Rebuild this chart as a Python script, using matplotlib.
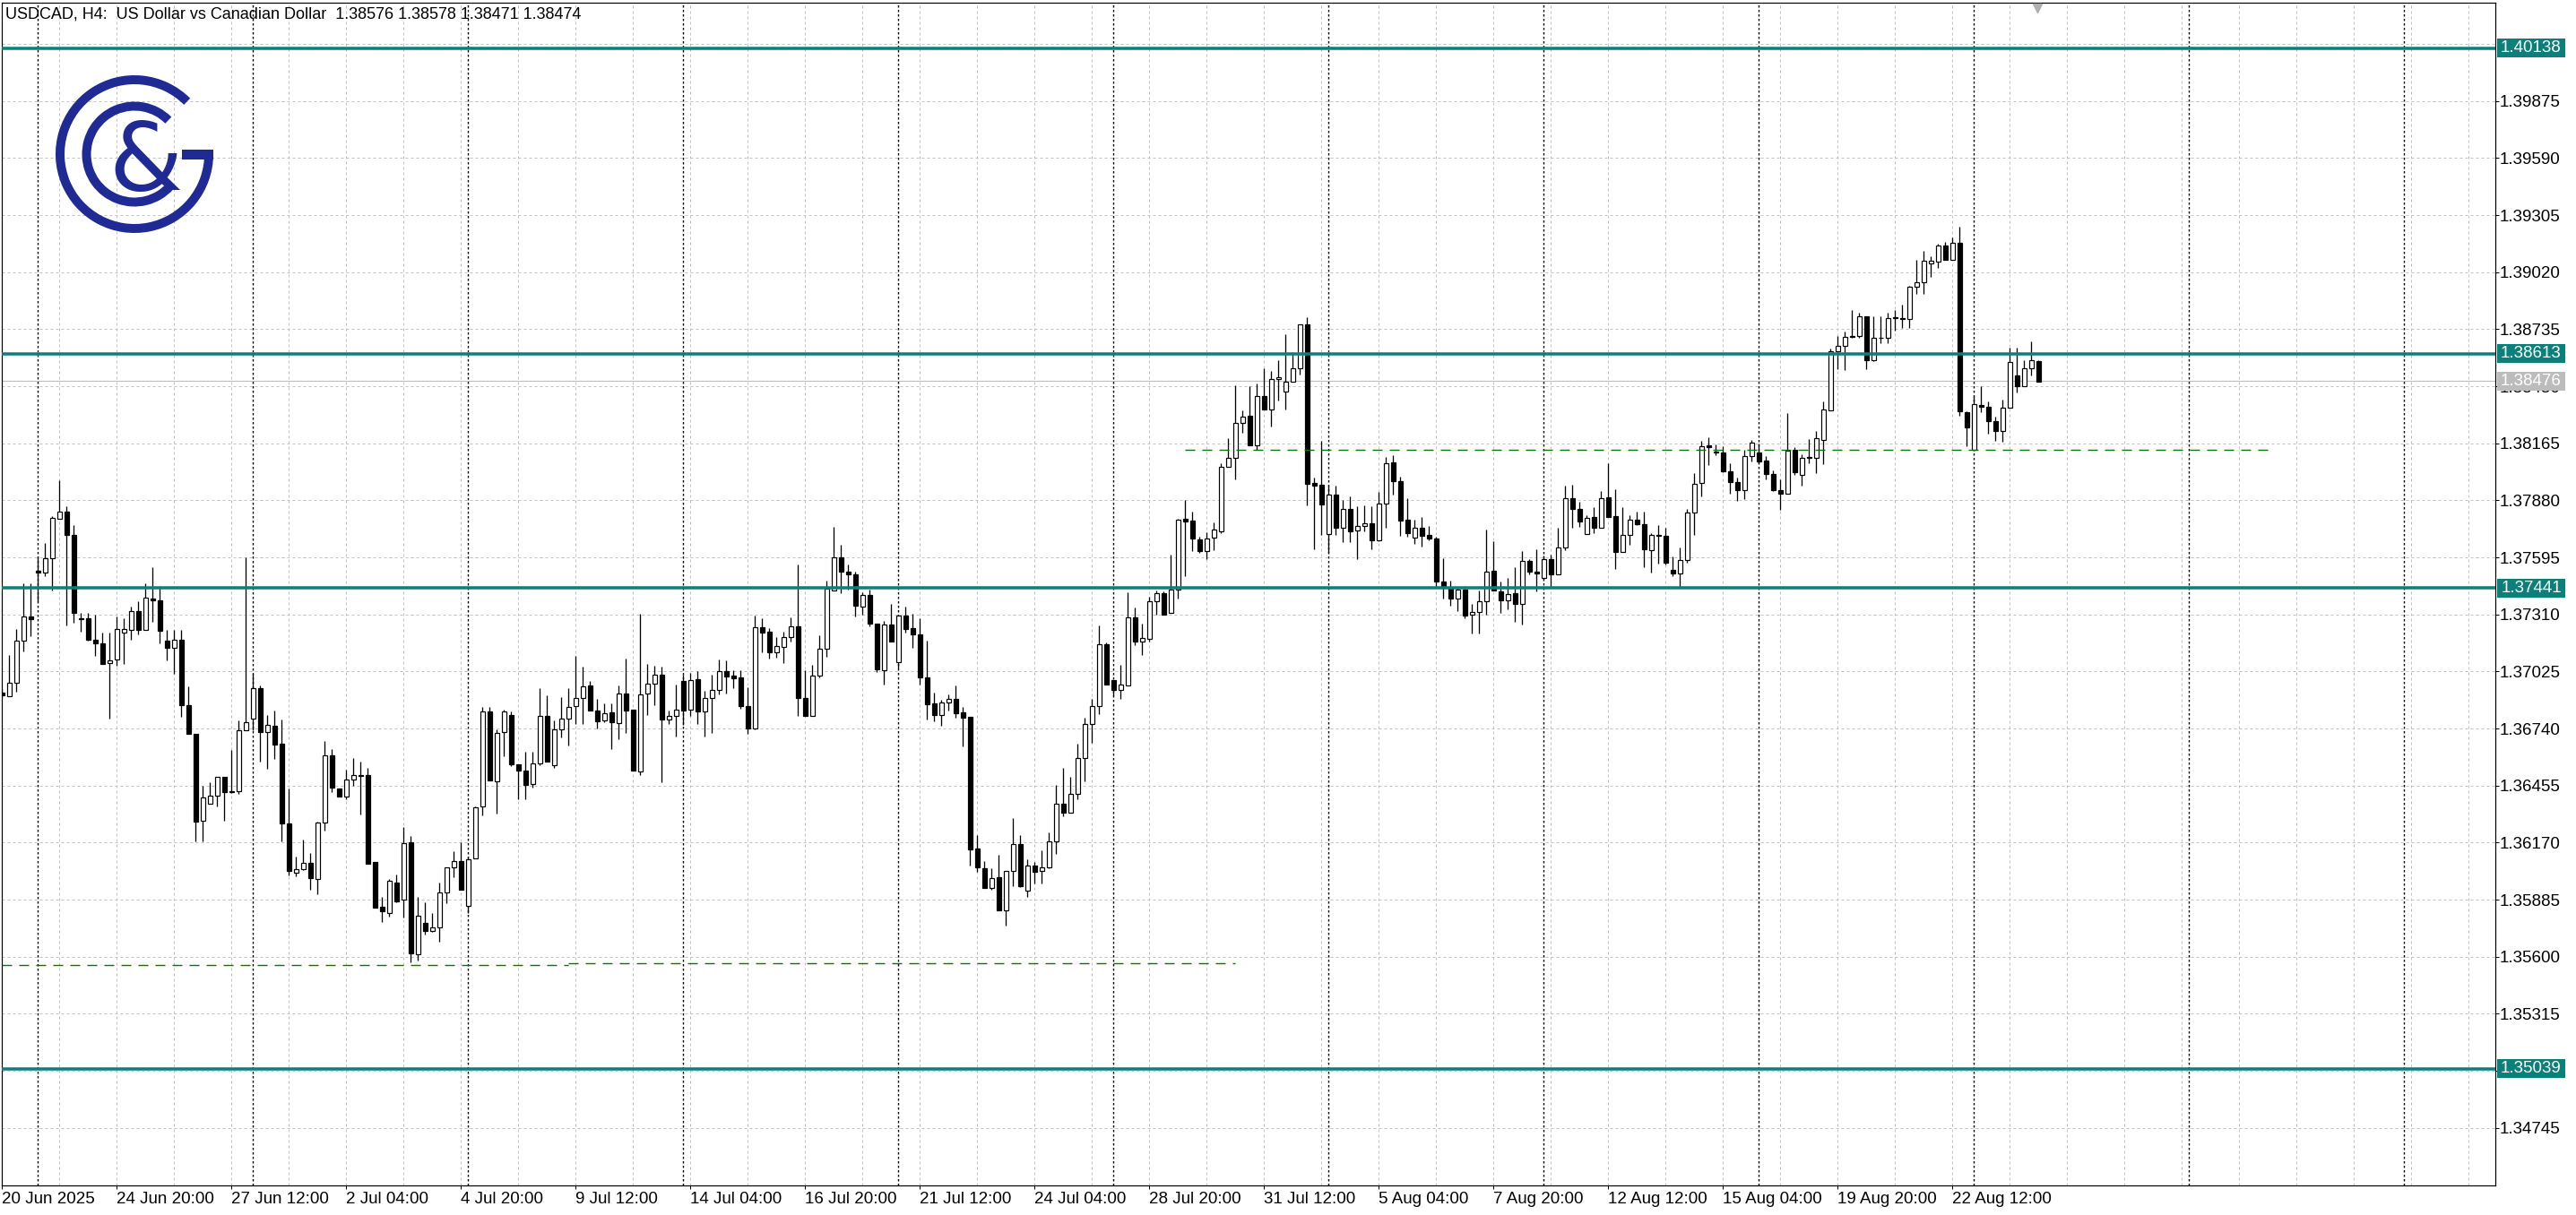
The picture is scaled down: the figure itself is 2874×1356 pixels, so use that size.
import numpy as np
import matplotlib
matplotlib.use("Agg")
import matplotlib.pyplot as plt
from matplotlib.patches import Rectangle, Arc
from matplotlib.transforms import blended_transform_factory

plt.rcParams["font.family"] = ["Liberation Sans", "DejaVu Sans"]
plt.rcParams["lines.scale_dashes"] = False

# H4 bars, 20 Jun 2025 -> 26 Aug 2025
opens = [
    1.36921, 1.36902, 1.36970, 1.37177, 1.37298, 1.37527, 1.37520, 1.37591, 1.37786, 1.37824,
    1.37709, 1.37291, 1.37291, 1.37185, 1.37167, 1.37069, 1.37083, 1.37219, 1.37233, 1.37327,
    1.37233, 1.37390, 1.37382, 1.37177, 1.37144, 1.37185, 1.36856, 1.36713, 1.36281, 1.36364,
    1.36404, 1.36498, 1.36428, 1.36426, 1.36730, 1.36789, 1.36940, 1.36721, 1.36752, 1.36663,
    1.36264, 1.36021, 1.36039, 1.36068, 1.35986, 1.36271, 1.36605, 1.36441, 1.36400, 1.36486,
    1.36508, 1.36508, 1.36071, 1.35849, 1.35820, 1.35972, 1.35885, 1.36173, 1.35610, 1.35769,
    1.35730, 1.35747, 1.35919, 1.36045, 1.36079, 1.35854, 1.36093, 1.36349, 1.36827, 1.36477,
    1.36721, 1.36806, 1.36559, 1.36528, 1.36461, 1.36565, 1.36804, 1.36558, 1.36737, 1.36791,
    1.36852, 1.36891, 1.36956, 1.36831, 1.36780, 1.36819, 1.36768, 1.36916, 1.36835, 1.36525,
    1.36916, 1.36962, 1.37007, 1.36786, 1.36804, 1.36976, 1.36835, 1.36985, 1.36826, 1.36894,
    1.36931, 1.37028, 1.37003, 1.36994, 1.36853, 1.36741, 1.37244, 1.37222, 1.37122, 1.37147,
    1.37197, 1.37252, 1.36894, 1.36804, 1.37006, 1.37140, 1.37431, 1.37595, 1.37525, 1.37510,
    1.37350, 1.37405, 1.37264, 1.37032, 1.37259, 1.37073, 1.37306, 1.37241, 1.37212, 1.36995,
    1.36864, 1.36809, 1.36871, 1.36886, 1.36819, 1.36798, 1.36140, 1.36043, 1.35943, 1.35996,
    1.35831, 1.36030, 1.36164, 1.35931, 1.36055, 1.36027, 1.36048, 1.36174, 1.36366, 1.36320,
    1.36413, 1.36591, 1.36763, 1.36851, 1.37161, 1.36983, 1.36932, 1.36954, 1.37293, 1.37175,
    1.37186, 1.37374, 1.37415, 1.37318, 1.37434, 1.37786, 1.37778, 1.37685, 1.37628, 1.37692,
    1.37726, 1.38046, 1.38093, 1.38266, 1.38303, 1.38155, 1.38399, 1.38333, 1.38484, 1.38422,
    1.38473, 1.38538, 1.38759, 1.37967, 1.37957, 1.37711, 1.37908, 1.37745, 1.37835, 1.37730,
    1.37750, 1.37767, 1.37679, 1.37863, 1.38068, 1.37974, 1.37782, 1.37692, 1.37741, 1.37707,
    1.37688, 1.37472, 1.37440, 1.37391, 1.37434, 1.37308, 1.37321, 1.37374, 1.37528, 1.37425,
    1.37382, 1.37415, 1.37363, 1.37579, 1.37523, 1.37494, 1.37586, 1.37509, 1.37643, 1.37889,
    1.37836, 1.37713, 1.37796, 1.37743, 1.37896, 1.37802, 1.37624, 1.37707, 1.37784, 1.37762,
    1.37631, 1.37707, 1.37703, 1.37531, 1.37513, 1.37580, 1.37819, 1.37966, 1.38154, 1.38124,
    1.38119, 1.38026, 1.37973, 1.37933, 1.38100, 1.38119, 1.38078, 1.38011, 1.37933, 1.37911,
    1.38130, 1.38005, 1.38096, 1.38094, 1.38183, 1.38331, 1.38626, 1.38651, 1.38696, 1.38700,
    1.38797, 1.38581, 1.38692, 1.38693, 1.38794, 1.38791, 1.38785, 1.38946, 1.38968, 1.39062,
    1.39072, 1.39151, 1.39083, 1.39166, 1.38320, 1.38134, 1.38355, 1.38347, 1.38276, 1.38224,
    1.38343, 1.38504, 1.38451, 1.38541, 1.38576,
]
highs = [
    1.36935, 1.37109, 1.37237, 1.37467, 1.37467, 1.37598, 1.37668, 1.37800, 1.37981, 1.37851,
    1.37754, 1.37317, 1.37317, 1.37310, 1.37218, 1.37218, 1.37301, 1.37289, 1.37351, 1.37376,
    1.37467, 1.37547, 1.37450, 1.37233, 1.37233, 1.37233, 1.36950, 1.36713, 1.36455, 1.36472,
    1.36498, 1.36498, 1.36634, 1.36781, 1.37595, 1.37015, 1.36955, 1.36805, 1.36830, 1.36784,
    1.36440, 1.36102, 1.36187, 1.36119, 1.36276, 1.36678, 1.36639, 1.36441, 1.36533, 1.36591,
    1.36576, 1.36545, 1.36071, 1.35897, 1.35987, 1.36011, 1.36247, 1.36201, 1.35897, 1.35871,
    1.35817, 1.35969, 1.36045, 1.36127, 1.36173, 1.36102, 1.36349, 1.36849, 1.36849, 1.36737,
    1.36836, 1.36824, 1.36562, 1.36622, 1.36625, 1.36943, 1.36904, 1.36779, 1.36895, 1.36943,
    1.37104, 1.37047, 1.36976, 1.36888, 1.36867, 1.36867, 1.36953, 1.37088, 1.36835, 1.37315,
    1.37062, 1.37055, 1.37050, 1.36831, 1.36958, 1.37010, 1.37017, 1.37025, 1.36928, 1.37007,
    1.37085, 1.37080, 1.37032, 1.37032, 1.36946, 1.37304, 1.37289, 1.37241, 1.37197, 1.37224,
    1.37294, 1.37558, 1.37032, 1.37058, 1.37207, 1.37480, 1.37746, 1.37659, 1.37558, 1.37522,
    1.37420, 1.37435, 1.37264, 1.37279, 1.37361, 1.37308, 1.37349, 1.37311, 1.37289, 1.37177,
    1.36921, 1.36883, 1.36909, 1.36953, 1.36846, 1.36798, 1.36207, 1.36078, 1.36040, 1.36107,
    1.36030, 1.36291, 1.36209, 1.36085, 1.36075, 1.36132, 1.36221, 1.36460, 1.36544, 1.36499,
    1.36663, 1.36795, 1.36889, 1.37255, 1.37171, 1.36983, 1.37058, 1.37421, 1.37344, 1.37265,
    1.37397, 1.37430, 1.37425, 1.37607, 1.37786, 1.37880, 1.37824, 1.37698, 1.37720, 1.37769,
    1.38064, 1.38190, 1.38454, 1.38328, 1.38450, 1.38463, 1.38540, 1.38525, 1.38578, 1.38710,
    1.38619, 1.38760, 1.38794, 1.37995, 1.38177, 1.37952, 1.37952, 1.37882, 1.37899, 1.37852,
    1.37854, 1.37848, 1.37920, 1.38096, 1.38106, 1.37999, 1.37889, 1.37782, 1.37795, 1.37750,
    1.37698, 1.37590, 1.37477, 1.37449, 1.37453, 1.37363, 1.37430, 1.37735, 1.37675, 1.37472,
    1.37491, 1.37547, 1.37626, 1.37585, 1.37637, 1.37604, 1.37610, 1.37743, 1.37951, 1.37959,
    1.37874, 1.37807, 1.37847, 1.37926, 1.38067, 1.37936, 1.37847, 1.37807, 1.37822, 1.37822,
    1.37714, 1.37755, 1.37743, 1.37598, 1.37646, 1.37836, 1.38015, 1.38176, 1.38197, 1.38157,
    1.38149, 1.38067, 1.37993, 1.38134, 1.38183, 1.38164, 1.38100, 1.38030, 1.37985, 1.38316,
    1.38145, 1.38109, 1.38186, 1.38224, 1.38376, 1.38636, 1.38700, 1.38722, 1.38830, 1.38816,
    1.38800, 1.38797, 1.38797, 1.38816, 1.38830, 1.38856, 1.38953, 1.39080, 1.39124, 1.39098,
    1.39162, 1.39172, 1.39191, 1.39247, 1.38323, 1.38402, 1.38450, 1.38376, 1.38298, 1.38384,
    1.38641, 1.38641, 1.38581, 1.38675, 1.38578,
]
lows = [
    1.36890, 1.36899, 1.36924, 1.37124, 1.37202, 1.37376, 1.37499, 1.37429, 1.37786, 1.37255,
    1.37267, 1.37225, 1.37179, 1.37103, 1.37064, 1.36788, 1.37054, 1.37061, 1.37182, 1.37211,
    1.37233, 1.37271, 1.37167, 1.37081, 1.37015, 1.36798, 1.36713, 1.36178, 1.36178, 1.36364,
    1.36349, 1.36277, 1.36417, 1.36412, 1.36730, 1.36733, 1.36574, 1.36537, 1.36588, 1.36178,
    1.36008, 1.36003, 1.36033, 1.35934, 1.35914, 1.36230, 1.36421, 1.36400, 1.36387, 1.36452,
    1.36310, 1.36064, 1.35846, 1.35772, 1.35798, 1.35871, 1.35794, 1.35573, 1.35581, 1.35709,
    1.35726, 1.35675, 1.35866, 1.35996, 1.35934, 1.35817, 1.36093, 1.36306, 1.36481, 1.36315,
    1.36600, 1.36554, 1.36387, 1.36386, 1.36446, 1.36555, 1.36576, 1.36543, 1.36695, 1.36655,
    1.36764, 1.36764, 1.36831, 1.36741, 1.36771, 1.36637, 1.36686, 1.36719, 1.36531, 1.36506,
    1.36809, 1.36856, 1.36473, 1.36764, 1.36700, 1.36756, 1.36804, 1.36764, 1.36700, 1.36718,
    1.36909, 1.36913, 1.36943, 1.36838, 1.36715, 1.36734, 1.37122, 1.37089, 1.37092, 1.37065,
    1.37174, 1.36801, 1.36804, 1.36804, 1.36995, 1.37100, 1.37431, 1.37416, 1.37435, 1.37298,
    1.37308, 1.37249, 1.37020, 1.36961, 1.37174, 1.37040, 1.37219, 1.37144, 1.36958, 1.36786,
    1.36774, 1.36753, 1.36831, 1.36794, 1.36652, 1.36055, 1.36025, 1.35943, 1.35933, 1.35831,
    1.35757, 1.35951, 1.35948, 1.35899, 1.35966, 1.35967, 1.36042, 1.36112, 1.36300, 1.36320,
    1.36386, 1.36475, 1.36669, 1.36813, 1.36960, 1.36907, 1.36889, 1.36954, 1.37156, 1.37109,
    1.37175, 1.37308, 1.37308, 1.37318, 1.37391, 1.37500, 1.37626, 1.37617, 1.37585, 1.37632,
    1.37716, 1.38046, 1.37983, 1.38219, 1.38155, 1.38134, 1.38333, 1.38247, 1.38379, 1.38333,
    1.38473, 1.38510, 1.37854, 1.37635, 1.37707, 1.37617, 1.37707, 1.37669, 1.37669, 1.37585,
    1.37726, 1.37635, 1.37675, 1.37745, 1.37910, 1.37703, 1.37698, 1.37664, 1.37650, 1.37682,
    1.37447, 1.37391, 1.37353, 1.37327, 1.37289, 1.37214, 1.37214, 1.37308, 1.37430, 1.37316,
    1.37335, 1.37274, 1.37259, 1.37509, 1.37425, 1.37487, 1.37449, 1.37509, 1.37632, 1.37743,
    1.37747, 1.37710, 1.37717, 1.37743, 1.37795, 1.37539, 1.37621, 1.37658, 1.37758, 1.37546,
    1.37519, 1.37564, 1.37561, 1.37501, 1.37442, 1.37568, 1.37705, 1.37901, 1.38055, 1.38105,
    1.38020, 1.37915, 1.37877, 1.37884, 1.38075, 1.38067, 1.37985, 1.37926, 1.37832, 1.37911,
    1.38005, 1.37951, 1.38067, 1.38015, 1.38060, 1.38331, 1.38536, 1.38532, 1.38692, 1.38690,
    1.38536, 1.38574, 1.38663, 1.38663, 1.38727, 1.38740, 1.38740, 1.38909, 1.38913, 1.38998,
    1.39040, 1.39083, 1.39083, 1.38301, 1.38149, 1.38134, 1.38320, 1.38212, 1.38175, 1.38172,
    1.38343, 1.38417, 1.38451, 1.38502, 1.38471,
]
closes = [
    1.36904, 1.36970, 1.37180, 1.37301, 1.37288, 1.37520, 1.37591, 1.37791, 1.37824, 1.37706,
    1.37317, 1.37284, 1.37182, 1.37167, 1.37064, 1.37078, 1.37237, 1.37235, 1.37327, 1.37233,
    1.37395, 1.37380, 1.37228, 1.37144, 1.37185, 1.36856, 1.36713, 1.36274, 1.36395, 1.36404,
    1.36498, 1.36422, 1.36422, 1.36730, 1.36771, 1.36940, 1.36721, 1.36757, 1.36660, 1.36267,
    1.36028, 1.36039, 1.36068, 1.35991, 1.36271, 1.36605, 1.36443, 1.36400, 1.36486, 1.36508,
    1.36503, 1.36064, 1.35846, 1.35825, 1.35977, 1.35876, 1.36166, 1.35615, 1.35806, 1.35730,
    1.35747, 1.35919, 1.36045, 1.36079, 1.35934, 1.36088, 1.36346, 1.36827, 1.36481, 1.36716,
    1.36824, 1.36559, 1.36528, 1.36458, 1.36567, 1.36804, 1.36576, 1.36737, 1.36791, 1.36849,
    1.36891, 1.36950, 1.36831, 1.36776, 1.36816, 1.36771, 1.36916, 1.36831, 1.36531, 1.36912,
    1.36962, 1.37010, 1.36786, 1.36804, 1.36835, 1.36831, 1.36983, 1.36826, 1.36894, 1.36931,
    1.37028, 1.37000, 1.36992, 1.36853, 1.36741, 1.37244, 1.37219, 1.37120, 1.37152, 1.37197,
    1.37252, 1.36894, 1.36804, 1.37006, 1.37140, 1.37438, 1.37595, 1.37525, 1.37510, 1.37353,
    1.37405, 1.37264, 1.37035, 1.37259, 1.37174, 1.37304, 1.37237, 1.37210, 1.36995, 1.36861,
    1.36809, 1.36871, 1.36886, 1.36816, 1.36794, 1.36137, 1.36048, 1.35943, 1.35993, 1.35831,
    1.36030, 1.36164, 1.35951, 1.36055, 1.36025, 1.36048, 1.36174, 1.36366, 1.36320, 1.36413,
    1.36591, 1.36763, 1.36851, 1.37161, 1.36960, 1.36932, 1.36960, 1.37293, 1.37175, 1.37190,
    1.37374, 1.37415, 1.37308, 1.37434, 1.37782, 1.37773, 1.37688, 1.37628, 1.37688, 1.37735,
    1.38046, 1.38093, 1.38266, 1.38300, 1.38155, 1.38399, 1.38333, 1.38484, 1.38497, 1.38473,
    1.38538, 1.38760, 1.37961, 1.37955, 1.37861, 1.37908, 1.37745, 1.37835, 1.37726, 1.37750,
    1.37767, 1.37679, 1.37863, 1.38064, 1.37974, 1.37777, 1.37716, 1.37741, 1.37703, 1.37688,
    1.37472, 1.37444, 1.37391, 1.37434, 1.37302, 1.37321, 1.37374, 1.37523, 1.37430, 1.37382,
    1.37410, 1.37363, 1.37579, 1.37523, 1.37515, 1.37585, 1.37509, 1.37646, 1.37889, 1.37839,
    1.37774, 1.37792, 1.37743, 1.37892, 1.37795, 1.37621, 1.37707, 1.37784, 1.37759, 1.37636,
    1.37705, 1.37703, 1.37568, 1.37513, 1.37583, 1.37819, 1.37963, 1.38149, 1.38146, 1.38119,
    1.38023, 1.37973, 1.37933, 1.38100, 1.38167, 1.38075, 1.38011, 1.37933, 1.37911, 1.38127,
    1.38020, 1.38090, 1.38093, 1.38189, 1.38335, 1.38626, 1.38651, 1.38696, 1.38699, 1.38797,
    1.38581, 1.38690, 1.38694, 1.38789, 1.38791, 1.38788, 1.38946, 1.38971, 1.39075, 1.39075,
    1.39151, 1.39083, 1.39166, 1.38323, 1.38246, 1.38361, 1.38346, 1.38276, 1.38224, 1.38343,
    1.38569, 1.38451, 1.38541, 1.38578, 1.38474,
]

time_labels = ["20 Jun 2025", "24 Jun 20:00", "27 Jun 12:00", "2 Jul 04:00", "4 Jul 20:00",
               "9 Jul 12:00", "14 Jul 04:00", "16 Jul 20:00", "21 Jul 12:00", "24 Jul 04:00",
               "28 Jul 20:00", "31 Jul 12:00", "5 Aug 04:00", "7 Aug 20:00", "12 Aug 12:00",
               "15 Aug 04:00", "19 Aug 20:00", "22 Aug 12:00"]
price_ticks = [1.34745 + 0.00285 * k for k in range(19)]
grid_levels = [1.34745 + 0.00285 * k for k in range(20)]
level_lines = [1.40138, 1.38613, 1.37441, 1.35039]
bid_price = 1.38476
# (price, first bar, last bar)
green_lines = [(1.38132, 165, 317), (1.35560, 0, 79), (1.35567, 79, 172)]
header = "USDCAD, H4:  US Dollar vs Canadian Dollar  1.38576 1.38578 1.38471 1.38474"

W, H = 2874, 1356
PX = 72 / 100  # points per pixel
teal = "#0b7f7a"
navy = "#1f2a94"

fig = plt.figure(figsize=(W / 100, H / 100), dpi=100)
ax = fig.add_axes([2 / W, (H - 1323) / H, 2782 / W, 1320 / H])
ax.set_xlim(-0.0625, 347.69)
ax.set_ylim(1.34457, 1.40366)

# grid
for lv in grid_levels:
    ax.axhline(lv, color="#c2c2c2", lw=1 * PX, dashes=(3 * PX, 3 * PX), zorder=0)
for b in range(0, 348, 8):
    ax.axvline(b, color="#c2c2c2", lw=1 * PX, dashes=(3 * PX, 3 * PX), zorder=0)
# week separators
for b in range(5, 348, 30):
    ax.axvline(b, color="black", lw=1.4 * PX, dashes=(2.5 * PX, 2.5 * PX), zorder=1)

# candles
x = np.arange(len(opens))
o = np.array(opens)
hi = np.array(highs)
lo = np.array(lows)
c = np.array(closes)
up = c >= o
ax.vlines(x, lo, hi, color="black", lw=1.3 * PX, zorder=3)
body_lo = np.minimum(o, c)
body_h = np.abs(c - o)
ax.bar(x[up], body_h[up], bottom=body_lo[up], width=0.58, facecolor="white",
       edgecolor="black", linewidth=1.2 * PX, zorder=4)
ax.bar(x[~up], body_h[~up], bottom=body_lo[~up], width=0.58, facecolor="black",
       edgecolor="black", linewidth=1.2 * PX, zorder=4)

# horizontal levels
ax.axhline(bid_price, color="#c0c0c0", lw=1.2 * PX, zorder=2)
for lv in level_lines:
    ax.axhline(lv, color=teal, lw=3.5 * PX, zorder=5)
for lv, x0, x1 in green_lines:
    ax.plot([x0, x1], [lv, lv], color="#007a00", lw=1.4 * PX, dashes=(11 * PX, 8 * PX), zorder=5)

# axes styling
for s in ax.spines.values():
    s.set_linewidth(1.2 * PX)
    s.set_color("black")
ax.yaxis.tick_right()
ax.set_yticks(price_ticks)
ax.set_yticklabels([f"{v:.5f}" for v in price_ticks])
ax.tick_params(axis="y", length=4 * PX, width=1 * PX, pad=1 * PX, labelsize=13.5)
ax.set_xticks(range(0, 16 * len(time_labels), 16))
ax.set_xticklabels(time_labels, ha="left")
ax.tick_params(axis="x", length=4 * PX, width=1 * PX, pad=3 * PX, labelsize=13.5)

# price labels on the right
trans = blended_transform_factory(ax.transAxes, ax.transData)
bw = 76 / 2782
bx = 1 + 2 / 2782
bh = 21 / 22339
for lv, fc in [(lv, teal) for lv in level_lines] + [(bid_price, "#bcbcbc")]:
    ax.add_patch(Rectangle((bx, lv - bh / 2), bw, bh, transform=trans, facecolor=fc,
                           edgecolor="none", clip_on=False, zorder=6))
    ax.text(bx + bw / 2, lv, f"{lv:.5f}", transform=trans, color="white", ha="center",
            va="center", fontsize=13.5, clip_on=False, zorder=7)

# header
ax.text(4 / 2782, 1 - 4.5 / 1320, header, transform=ax.transAxes, ha="left", va="top",
        fontsize=13, zorder=8)

# shift marker
ax.plot([283.8], [1.40366 - 6 / 22339], marker="v", ms=7, color="#b0b0b0",
        mec="#b0b0b0", clip_on=False, zorder=8)

# logo
lg = fig.add_axes([50 / W, (H - 272) / H, 200 / W, 200 / H])
lg.set_xlim(-100, 100)
lg.set_ylim(-100, 100)
lg.axis("off")
lg.add_patch(Arc((0, 0), 166, 166, theta1=45, theta2=360, lw=10 * PX, color=navy))
lg.add_patch(Rectangle((53, -5.5), 35, 11, color=navy, lw=0))
lg.add_patch(Arc((0, 0), 107, 107, theta1=45, theta2=318, lw=10 * PX, color=navy))
lg.text(12, -41, "&", ha="center", va="baseline", fontsize=76, color=navy,
        family="DejaVu Sans")

fig.savefig("out.png", dpi=100)
